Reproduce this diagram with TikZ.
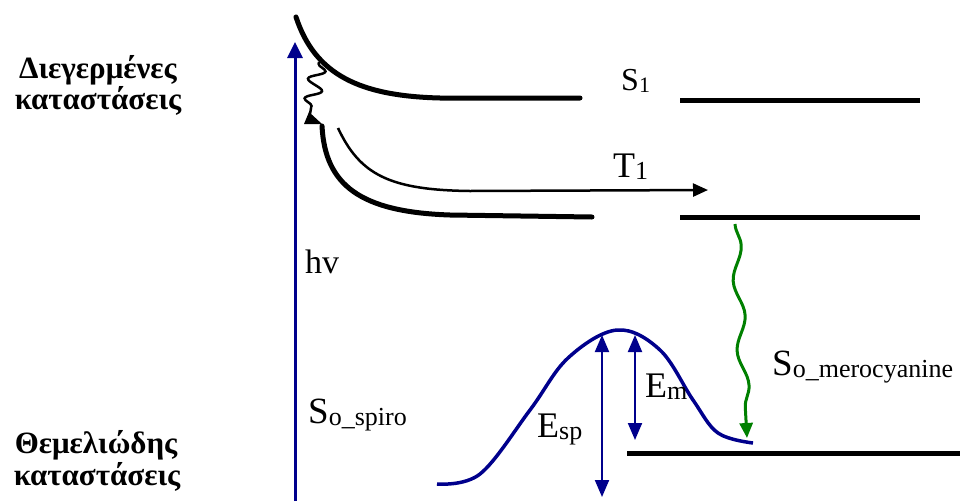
\documentclass[tikz,border=0pt]{standalone}
\usepackage{fontspec}
\setmainfont{Liberation Serif}
\newfontfamily\grkb{Liberation Serif Bold}
\usetikzlibrary{arrows.meta,decorations.pathmorphing}
\definecolor{navy}{RGB}{0,0,140}
\definecolor{dgreen}{RGB}{0,128,0}
\newcommand\fsz[1]{\fontsize{#1}{#1}\selectfont}
\newcommand\lsub[2]{\raisebox{-2pt}{\fsz{#1}#2}}
\tikzset{
  lvl/.style={line width=5pt},
  curve/.style={line width=5pt, line cap=round},
  lbl/.style={inner sep=0pt, anchor=base west},
  greek/.style={font=\grkb\fsz{31}, anchor=base, inner sep=0pt},
  navyarr/.style={draw=navy, line width=2pt}
}
\begin{document}
\begin{tikzpicture}[x=1pt,y=-1pt]
\useasboundingbox (0,0) rectangle (960,501);
% side labels
\node[greek] (exc1) at (98,78) {Διεγερμένες};
\node[greek] (exc2) at (98,109) {καταστάσεις};
\node[greek] (gnd1) at (96,453) {Θεμελιώδης};
\node[greek] (gnd2) at (97,485) {καταστάσεις};
% excitation arrow
\coordinate (hvbot) at (295,501);
\coordinate (hvtop) at (295,42);
\draw[draw=navy, line width=3pt, -{Triangle[length=16pt,width=15pt]}] (hvbot) -- (hvtop);
% level lines
\coordinate (s1a) at (680,100); \coordinate (s1b) at (920,100);
\coordinate (t1a) at (680,217); \coordinate (t1b) at (920,217);
\coordinate (g0a) at (627,453); \coordinate (g0b) at (960,453);
\draw[lvl] (s1a) -- (s1b);
\draw[lvl] (t1a) -- (t1b);
\draw[lvl] (g0a) -- (g0b);
% S1 curve
\coordinate (s1c0) at (296,17); \coordinate (s1c1) at (440,98); \coordinate (s1c2) at (580,98);
\draw[curve] (s1c0) .. controls (315,75) and (360,96) .. (s1c1) -- (s1c2);
% T1 curve
\coordinate (t1c0) at (322,126); \coordinate (t1c1) at (450,215); \coordinate (t1c2) at (592,217);
\draw[curve] (t1c0) .. controls (325,185) and (360,212) .. (t1c1) -- (t1c2);
% ISC arrow
\coordinate (isc0) at (338,128); \coordinate (isc1) at (470,191); \coordinate (isc2) at (708,190);
\draw[line width=2.5pt, -{Triangle[length=15pt,width=13pt]}] (isc0) .. controls (360,175) and (390,190) .. (isc1) -- (isc2);
% wavy black with its small triangle
\coordinate (wb0) at (319,62); \coordinate (wb1) at (310,114);
\draw[line width=2.5pt, decorate, decoration={snake, amplitude=8pt, segment length=20pt, pre length=2pt, post length=3pt}] (wb0) -- (wb1);
\fill (304,124) -- (309,112) -- (322,124) -- cycle;
% green wavy
\coordinate (gw0) at (735,224); \coordinate (gw1) at (747,438);
\draw[dgreen, line width=3pt, decorate, decoration={snake, amplitude=5pt, segment length=70pt, post length=20pt}, -{Triangle[length=15pt,width=13pt]}] (gw0) -- (gw1);
% blue barrier
\draw[navy, line width=3.5pt] plot[smooth, tension=0.6] coordinates {(437,484) (480,474) (530,410) (568,358) (617,330) (660,350) (693,400) (718,433) (753,443)};
% Esp, Em arrows
\coordinate (esp0) at (602,335); \coordinate (esp1) at (602,497);
\coordinate (em0) at (635,335); \coordinate (em1) at (635,440);
\draw[navyarr, {Triangle[length=17pt,width=14pt]}-{Triangle[length=17pt,width=14pt]}] (esp0) -- (esp1);
\draw[navyarr, {Triangle[length=17pt,width=14pt]}-{Triangle[length=17pt,width=14pt]}] (em0) -- (em1);
% labels
\node[lbl, font=\fsz{32}] (S1) at (621,90) {S\lsub{22}{1}};
\node[lbl, font=\fsz{36}] (T1) at (613,177) {T\lsub{26}{1}};
\node[lbl, font=\fsz{34}] (hv) at (305,273) {hv};
\node[lbl, font=\fsz{37}] (sspiro) at (308,423) {S\lsub{26}{o\_spiro}};
\node[lbl, font=\fsz{37}] (smero) at (772,375) {S\lsub{26}{o\_merocyanine}};
\node[lbl, font=\fsz{36}] (esp) at (537,437) {E\lsub{26}{sp}};
\node[lbl, font=\fsz{36}] (em) at (645,397) {E\lsub{26}{m}};
\end{tikzpicture}
\end{document}
